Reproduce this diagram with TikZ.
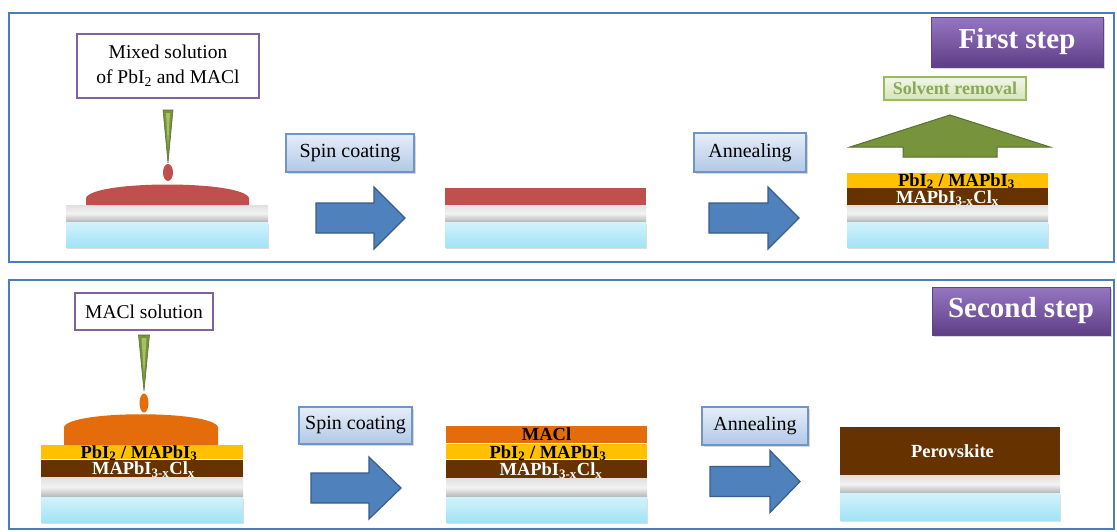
\documentclass[tikz,border=0pt]{standalone}
\usepackage{fontspec}
\setmainfont{Liberation Serif}
\usetikzlibrary{shadows}

\definecolor{framec}{HTML}{4A7EBB}
\definecolor{tagc}{HTML}{7F63A1}
\definecolor{boxedge}{HTML}{6E95C8}
\definecolor{boxtop}{HTML}{E6EEF9}
\definecolor{boxbot}{HTML}{B2C8E6}
\definecolor{arrowc}{HTML}{4F81BD}
\definecolor{arrowedge}{HTML}{385D8A}
\definecolor{redfilm}{HTML}{C0504D}
\definecolor{orangefilm}{HTML}{E46C0A}
\definecolor{yellowfilm}{HTML}{FFC000}
\definecolor{brownfilm}{HTML}{663300}
\definecolor{glasstop}{HTML}{D2F3FC}
\definecolor{glassbot}{HTML}{A2E3F5}
\definecolor{greenc}{HTML}{77933C}
\definecolor{greenedge}{HTML}{5A7030}
\definecolor{greenlight}{HTML}{A4C263}
\definecolor{solvtop}{HTML}{F2F7E8}
\definecolor{solvbot}{HTML}{D5E3B8}
\definecolor{solvedge}{HTML}{9BBB59}
\definecolor{solvtext}{HTML}{8AA85A}
\definecolor{titletop}{HTML}{9676C2}
\definecolor{titlebot}{HTML}{5E3F86}
\definecolor{titleedge}{HTML}{5C4580}

\begin{document}
\begin{tikzpicture}[x=1pt,y=-1pt,
  panel/.style={draw=framec, line width=2pt, anchor=north west, inner sep=0pt},
  tagbox/.style={draw=tagc, line width=2pt, fill=white, inner sep=0pt, align=center,
    font=\fontsize{19.5}{24.5}\selectfont},
  stepbox/.style={draw=boxedge, line width=1.2pt, top color=boxtop, bottom color=boxbot,
    inner sep=0pt, font=\fontsize{20}{24}\selectfont,
    drop shadow={shadow xshift=1.5pt, shadow yshift=-1.5pt, opacity=0.3}},
  titlebox/.style={draw=titleedge, line width=1pt, top color=titletop, bottom color=titlebot,
    inner sep=0pt, text=white, font=\fontsize{29}{34}\selectfont\bfseries,
    drop shadow={shadow xshift=1.5pt, shadow yshift=-1.5pt, opacity=0.3}},
  layer/.style={anchor=north west, inner sep=0pt, outer sep=0pt},
  metal/.style={layer, top color=gray!24, bottom color=gray!58, middle color=gray!10},
  glass/.style={layer, top color=glasstop, bottom color=glassbot,
    drop shadow={shadow xshift=0.5pt, shadow yshift=-1.5pt, opacity=0.25}},
  filmlabel/.style={anchor=base, inner sep=0pt, font=\fontsize{18.5}{20}\selectfont\bfseries},
  barrow/.style={fill=arrowc, draw=arrowedge, line width=1.2pt, line join=miter},
  uparrow/.style={fill=greenc, draw=greenedge, line width=1pt, line join=miter},
  tip/.style={fill=greenc, draw=greenedge, line width=0.6pt}
]
\useasboundingbox (0,0) rectangle (1117,531);
\fill[white] (0,0) rectangle (1117,531);

% ---------- panels ----------
\node[panel, minimum width=1105pt, minimum height=249pt] (toppanel) at (8,12) {};
\node[panel, minimum width=1105pt, minimum height=249pt] (botpanel) at (8,279) {};

% ---------- first step ----------
\node[titlebox, minimum width=172pt, minimum height=50pt] (first) at (1017,42) {First step};

% solution tag, pipette and drop
\node[tagbox, minimum width=182pt, minimum height=64pt] (mixtag) at (168,66)
  {Mixed solution\\of PbI\textsubscript{2} and MACl};
\draw[tip] (163,110) -- (173,110) -- (168,163) -- cycle;
\fill[greenlight] (166,113) -- (170,113) -- (168,148) -- cycle;
\fill[redfilm] (168,172.5) ellipse [x radius=5, y radius=8.5];

% substrate with wet film
\node[metal, minimum width=202pt, minimum height=17pt] (s1metal) at (66,205) {};
\node[glass, minimum width=202pt, minimum height=25pt] (s1glass) at (66,222) {};
\fill[redfilm] (86,205) -- (86,198) .. controls (92,180) and (243,180) .. (249,198) -- (249,205) -- cycle;

% spin coating
\node[stepbox, minimum width=128pt, minimum height=38pt] (spin1) at (350,153) {Spin coating};
\draw[barrow] (316,218) ++(0,-15) -- ++(58,0) -- ++(0,-16) -- ++(31,31) -- ++(-31,31) -- ++(0,-16) -- ++(-58,0) -- cycle;

% spun film
\node[layer, fill=redfilm, minimum width=201pt, minimum height=17pt] (s2film) at (445,188) {};
\node[metal, minimum width=201pt, minimum height=17pt] (s2metal) at (445,205) {};
\node[glass, minimum width=201pt, minimum height=25pt] (s2glass) at (445,222) {};

% annealing
\node[stepbox, minimum width=112pt, minimum height=39pt] (anneal1) at (750,152.5) {Annealing};
\draw[barrow] (709,218) ++(0,-15) -- ++(59,0) -- ++(0,-16) -- ++(31,31) -- ++(-31,31) -- ++(0,-16) -- ++(-59,0) -- cycle;

% annealed stack
\node[layer, fill=yellowfilm, minimum width=201pt, minimum height=15pt] (s3pbi) at (847,173) {};
\node[layer, fill=brownfilm, minimum width=201pt, minimum height=17pt] (s3mix) at (847,188) {};
\node[metal, minimum width=201pt, minimum height=17pt] (s3metal) at (847,205) {};
\node[glass, minimum width=201pt, minimum height=25pt] (s3glass) at (847,222) {};
\node[filmlabel] (s3pbilab) at (956.5,186) {PbI\textsubscript{2} / MAPbI\textsubscript{3}};
\node[filmlabel, text=white] (s3mixlab) at (947.5,203) {MAPbI\textsubscript{3-x}Cl\textsubscript{x}};

% solvent removal
\draw[uparrow] (903,157) -- (903,147) -- (850,147) -- (950,115) -- (1050,147) -- (997,147) -- (997,157) -- cycle;
\node[draw=solvedge, line width=1.2pt, top color=solvtop, bottom color=solvbot, inner sep=0pt,
  minimum width=142pt, minimum height=23pt, text=solvtext,
  font=\fontsize{18}{20}\selectfont\bfseries] (solvent) at (955,88.5) {Solvent removal};

% ---------- second step ----------
\node[titlebox, minimum width=178pt, minimum height=48pt] (second) at (1021,311) {Second step};

% solution tag, pipette and drop
\node[tagbox, minimum width=138pt, minimum height=37pt] (macltag) at (144,311.5) {MACl solution};
\draw[tip] (138.5,335) -- (149.5,335) -- (144,391) -- cycle;
\fill[greenlight] (141.5,338) -- (146.5,338) -- (144,376) -- cycle;
\fill[orangefilm] (144,403) ellipse [x radius=4.5, y radius=9.5];

% first-step film with wet MACl
\node[layer, fill=yellowfilm, minimum width=202pt, minimum height=14pt] (b1pbi) at (41,445) {};
\node[layer, fill=brownfilm, minimum width=202pt, minimum height=17pt] (b1mix) at (41,460) {};
\node[metal, minimum width=202pt, minimum height=20pt] (b1metal) at (41,477) {};
\node[glass, minimum width=202pt, minimum height=25pt] (b1glass) at (41,497) {};
\fill[orangefilm] (64,445) -- (64,427) .. controls (70,410) and (212,410) .. (218,427) -- (218,445) -- cycle;
\node[filmlabel] (b1pbilab) at (139,458) {PbI\textsubscript{2} / MAPbI\textsubscript{3}};
\node[filmlabel, text=white] (b1mixlab) at (143.5,474.5) {MAPbI\textsubscript{3-x}Cl\textsubscript{x}};

% spin coating
\node[stepbox, minimum width=113pt, minimum height=37pt] (spin2) at (355.5,425.5) {Spin coating};
\draw[barrow] (311,488) ++(0,-15) -- ++(58,0) -- ++(0,-16) -- ++(32,31) -- ++(-32,31) -- ++(0,-16) -- ++(-58,0) -- cycle;

% spun MACl layer
\node[layer, fill=orangefilm, minimum width=201pt, minimum height=17pt] (b2macl) at (446,426) {};
\node[layer, fill=yellowfilm, minimum width=201pt, minimum height=15pt] (b2pbi) at (446,444) {};
\node[layer, fill=brownfilm, minimum width=201pt, minimum height=18pt] (b2mix) at (446,460) {};
\node[metal, minimum width=201pt, minimum height=19pt] (b2metal) at (446,478) {};
\node[glass, minimum width=201pt, minimum height=25pt] (b2glass) at (446,497) {};
\node[filmlabel] (b2macllab) at (546.5,440) {MACl};
\node[filmlabel] (b2pbilab) at (548,458) {PbI\textsubscript{2} / MAPbI\textsubscript{3}};
\node[filmlabel, text=white] (b2mixlab) at (551,475.5) {MAPbI\textsubscript{3-x}Cl\textsubscript{x}};

% annealing
\node[stepbox, minimum width=106pt, minimum height=38pt] (anneal2) at (755,426) {Annealing};
\draw[barrow] (710,481.5) ++(0,-15) -- ++(60,0) -- ++(0,-16) -- ++(30,31) -- ++(-30,31) -- ++(0,-16) -- ++(-60,0) -- cycle;

% perovskite
\node[layer, fill=brownfilm, minimum width=220pt, minimum height=48pt] (b3pero) at (840,427) {};
\node[metal, minimum width=220pt, minimum height=18pt] (b3metal) at (840,475) {};
\node[glass, minimum width=220pt, minimum height=27pt] (b3glass) at (840,493) {};
\node[filmlabel, text=white] (b3perolab) at (952.5,457) {Perovskite};
\end{tikzpicture}
\end{document}
